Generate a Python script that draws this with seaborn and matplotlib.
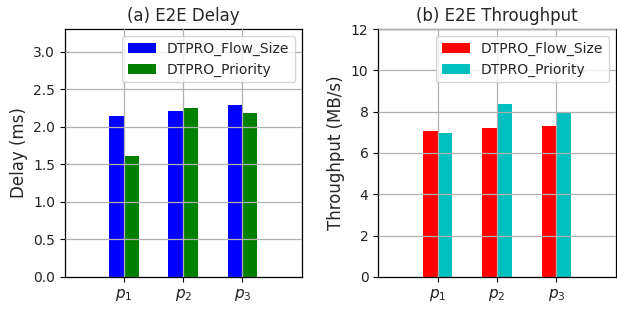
import numpy as np
import pandas as pd
import matplotlib
matplotlib.use("Agg")
import matplotlib.pyplot as plt
import seaborn as sns

categories = ["$p_1$", "$p_2$", "$p_3$"]
series = ["DTPRO_Flow_Size", "DTPRO_Priority"]
delay_flow = [2.14, 2.21, 2.29]
delay_prio = [1.615, 2.25, 2.18]
thr_flow = [7.05, 7.2, 7.29]
thr_prio = [6.95, 8.37, 7.92]

sns.set_style("white")
plt.rcParams['font.family'] = ['DejaVu Sans']

fig = plt.figure(figsize=(6.17, 3.09), dpi=100)
ax1 = fig.add_axes([0.105, 0.104, 0.384, 0.802])
ax2 = fig.add_axes([0.613, 0.104, 0.385, 0.802])

def make_df(a, b):
    return pd.DataFrame({
        "p": categories * 2,
        "val": list(a) + list(b),
        "series": [series[0]] * 3 + [series[1]] * 3,
    })

def draw(ax, df, colors, title, ylabel, ylim, yticks, fmt):
    sns.barplot(data=df, x="p", y="val", hue="series", palette=colors,
                width=0.5, saturation=1, ax=ax, errorbar=None, linewidth=0)
    ax.set_xlim(-1, 3)
    ax.set_ylim(*ylim)
    ax.set_yticks(yticks)
    ax.set_yticklabels([fmt.format(t) for t in yticks], fontsize=10)
    ax.set_xticks(range(3))
    ax.set_xticklabels(categories, fontsize=11)
    ax.set_xlabel("")
    ax.set_ylabel(ylabel, fontsize=12)
    ax.set_title(title, fontsize=12)
    ax.grid(True, color="#b0b0b0", linewidth=0.9)
    ax.set_axisbelow(False)
    ax.tick_params(axis="both", which="both", direction="out", length=3.5,
                   width=0.8, color="black", bottom=True, left=True, colors="#222222")
    for s in ax.spines.values():
        s.set_color("black")
        s.set_linewidth(0.9)
    leg = ax.legend(loc="upper right", fontsize=10, frameon=True, title=None,
                    fancybox=True, framealpha=0.8, edgecolor="#cccccc",
                    handlelength=2.0)

draw(ax1, make_df(delay_flow, delay_prio), ["#0000ff", "#008000"],
     "(a) E2E Delay", "Delay (ms)", (0, 3.3), np.arange(0, 3.01, 0.5), "{:.1f}")
draw(ax2, make_df(thr_flow, thr_prio), ["#ff0000", "#00bfbf"],
     "(b) E2E Throughput", "Throughput (MB/s)", (0, 12), np.arange(0, 13, 2), "{:.0f}")

fig.savefig("out.png", dpi=100)
